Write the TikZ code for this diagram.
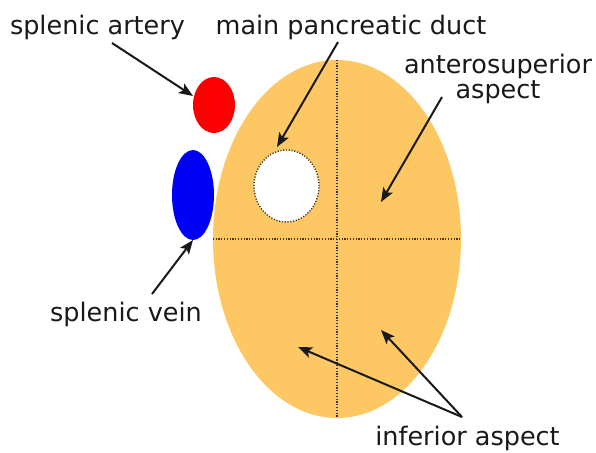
\documentclass[tikz,border=0pt]{standalone}
\usepackage{fontspec}
\setmainfont{DejaVu Sans}
\usetikzlibrary{arrows.meta,shapes.geometric}
\definecolor{pancol}{RGB}{253,200,100}
\definecolor{artcol}{RGB}{250,0,0}
\definecolor{veincol}{RGB}{0,0,245}
\definecolor{dotcol}{RGB}{70,50,20}

\begin{document}
\begin{tikzpicture}[x=1pt, y=-1pt,
  organ/.style={ellipse, fill=#1, inner sep=0pt},
  lbl/.style={font=\fontsize{25.5}{20}\selectfont, inner sep=0pt, text=black!90, align=center},
  sep/.style={draw=dotcol, line width=1.4pt, dash pattern=on 1.2pt off 1.6pt},
  arr/.style={-{Stealth[length=14pt,width=11pt,inset=3pt]}, line width=2pt, draw=black!90}]
  \useasboundingbox (0,0) rectangle (596,452);
  % pancreas and vessels
  \node[organ=pancol, minimum width=248pt, minimum height=358pt] (pan) at (337,239) {};
  \node[organ=artcol, minimum width=42pt, minimum height=56pt] (art) at (214,105) {};
  \node[organ=veincol, minimum width=42pt, minimum height=90pt] (vein) at (193,195) {};
  \draw[sep] (pan.north) -- (pan.south);
  \draw[sep] (pan.west) -- (pan.east);
  \node[organ=white, sep, minimum width=65pt, minimum height=72pt] (duct) at (286.5,186) {};
  % labels
  \node[lbl, anchor=base] (artlbl) at (97.5,35) {splenic artery};
  \node[lbl, anchor=base] (ductlbl) at (351,35) {main pancreatic duct};
  \node[lbl, anchor=base] (antlbl) at (498,98) {anterosuperior\\aspect};
  \node[lbl, anchor=base] (veinlbl) at (126,321) {splenic vein};
  \node[lbl, anchor=base] (inflbl) at (467.5,445) {inferior aspect};
  % arrow ends
  \coordinate (artS) at (112,43);   \coordinate (artT) at (193,96);
  \coordinate (ductS) at (338,42);  \coordinate (ductT) at (277,147);
  \coordinate (antS) at (442,97);   \coordinate (antT) at (381,202);
  \coordinate (veinS) at (152,294); \coordinate (veinT) at (193,240);
  \coordinate (infS) at (462,417);
  \coordinate (infA) at (298,347);  \coordinate (infB) at (381,330);
  \draw[arr] (artS) -- (artT);
  \draw[arr] (ductS) -- (ductT);
  \draw[arr] (antS) -- (antT);
  \draw[arr] (veinS) -- (veinT);
  \draw[arr] (infS) -- (infA);
  \draw[arr] (infS) -- (infB);
\end{tikzpicture}
\end{document}
